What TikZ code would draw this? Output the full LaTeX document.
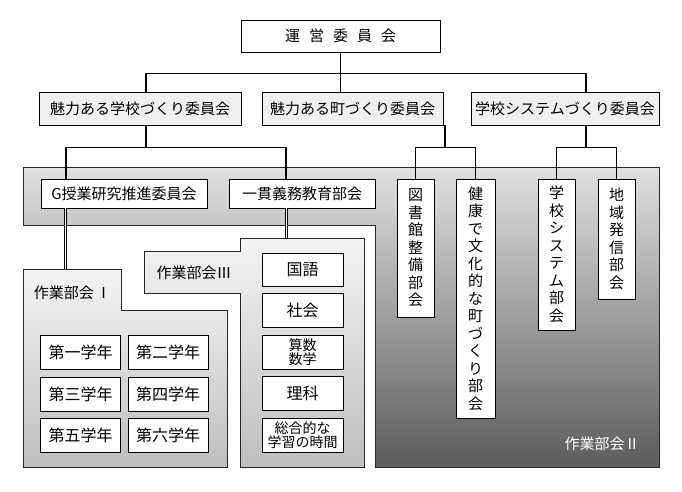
\documentclass[tikz,border=0pt]{standalone}
\usepackage{fontspec}
\setmainfont{Noto Sans CJK JP}
\usetikzlibrary{positioning,calc}
\definecolor{headgray}{HTML}{F0F0F0}
\definecolor{darktop}{HTML}{E0E0E0}
\definecolor{darkbot}{HTML}{5C5C5C}
\definecolor{lighttop}{HTML}{F4F4F4}
\definecolor{lightbot}{HTML}{BEBEBE}

\begin{document}
\begin{tikzpicture}[x=1pt, y=-1pt,
	every node/.style={draw, line width=0.8pt, inner sep=0pt, align=center, font=\fontsize{15}{17}\selectfont},
	head/.style={fill=headgray, minimum height=33pt},
	member/.style={fill=white, minimum height=29pt},
	upright/.style={fill=white, minimum width=37pt, font=\fontsize{15}{17.5}\selectfont},
	year/.style={fill=white, minimum width=80pt, minimum height=34pt, font=\fontsize{16}{18}\selectfont},
	subject/.style={fill=white, minimum width=81pt, minimum height=34pt, font=\fontsize{16}{18}\selectfont},
	link/.style={line width=1.8pt},
	twin/.style={double=white, double distance=1.4pt, line width=0.9pt},
	panel/.style={draw=black!85, line width=0.8pt},
	tag/.style={draw=none, fill=none}]
	\useasboundingbox (0,0) rectangle (682,491);

	% working groups
	\draw[panel, top color=darktop, bottom color=darkbot]
		(23,167) -- (659,167) -- (659,467) -- (375,467) -- (375,225) -- (23,225) -- cycle;
	\draw[panel, top color=lighttop, bottom color=lightbot]
		(23,269) -- (121,269) -- (121,310) -- (227,310) -- (227,467) -- (23,467) -- cycle;
	\draw[panel, top color=lighttop, bottom color=lightbot]
		(144,251) -- (240,251) -- (240,238) -- (364,238) -- (364,467) -- (240,467) -- (240,293) -- (144,293) -- cycle;
	\coordinate (wg1in) at (65.5,269);
	\coordinate (wg3in) at (286.5,238);

	\node[fill=white, minimum width=199pt, minimum height=32pt] (top) at (340.5,36)
		{運\hspace{9pt}営\hspace{9pt}委\hspace{9pt}員\hspace{9pt}会};
	\node[head, minimum width=202pt] (school) at (140,108.5) {魅力ある学校づくり委員会};
	\node[head, minimum width=181pt] (town) at (352.5,108.5) {魅力ある町づくり委員会};
	\node[head, minimum width=188pt] (system) at (565,108.5) {学校システムづくり委員会};

	\node[member, minimum width=166pt] (gres) at (124,193.5) {G授業研究推進委員会};
	\node[member, minimum width=146pt] (ikkan) at (302,193.5) {一貫義務教育部会};
	\node[upright, minimum height=138pt] (lib) at (415.5,248) {図\\書\\館\\整\\備\\部\\会};
	\node[upright, minimum width=39pt, minimum height=239pt] (health) at (475.5,298.5)
		{健\\康\\で\\文\\化\\的\\な\\町\\づ\\く\\り\\部\\会};
	\node[upright, minimum height=151pt] (sys) at (556.5,254.5) {学\\校\\シ\\ス\\テ\\ム\\部\\会};
	\node[upright, minimum height=120pt] (region) at (616.5,239) {地\\域\\発\\信\\部\\会};

	\node[year] (y1) at (80.5,352) {第一学年};
	\node[year] (y2) at (168,352) {第二学年};
	\node[year] (y3) at (80.5,394) {第三学年};
	\node[year] (y4) at (168,394) {第四学年};
	\node[year] (y5) at (80.5,435) {第五学年};
	\node[year] (y6) at (168,435) {第六学年};

	\node[subject, minimum height=33pt] (kokugo) at (302.5,269.5) {国語};
	\node[subject] (shakai) at (302.5,310.5) {社会};
	\node[subject, font=\fontsize{14}{14.5}\selectfont] (sansu) at (302.5,352) {算数\\数学};
	\node[subject] (rika) at (302.5,393.5) {理科};
	\node[subject, font=\fontsize{14}{14.5}\selectfont] (sogo) at (302.5,435) {総合的な\\学習の時間};

	\node[tag] (wg1) at (72.5,293) {作業部会\,Ⅰ};
	\node[tag] (wg3) at (194,273) {作業部会Ⅲ};
	\node[tag, text=white] (wg2) at (602,444) {作業部会Ⅱ};

	% tree
	\draw[link] (top.south) -- ++(0,21) coordinate (bus1);
	\draw[link] ([xshift=6]school.north) |- (bus1) -| ([xshift=21]system.north);
	\draw[link] (bus1) -- (bus1 |- town.north);
	\draw[link] ([xshift=6]school.south) -- ++(0,22) coordinate (bus2);
	\draw[link] ([xshift=-58]gres.north) |- (bus2) -| ([xshift=-16]ikkan.north);
	\draw[link] ([xshift=1.5]town.south east) -- ++(0,22) coordinate (bus3);
	\draw[link] (lib.north) |- (bus3) -| (health.north);
	\draw[link] ([xshift=21]system.south) -- ++(0,22) coordinate (bus4);
	\draw[link] (sys.north) |- (bus4) -| (region.north);
	\draw[twin] (wg1in |- gres.south) -- (wg1in);
	\draw[twin] (wg3in |- ikkan.south) -- (wg3in);
\end{tikzpicture}
\end{document}
